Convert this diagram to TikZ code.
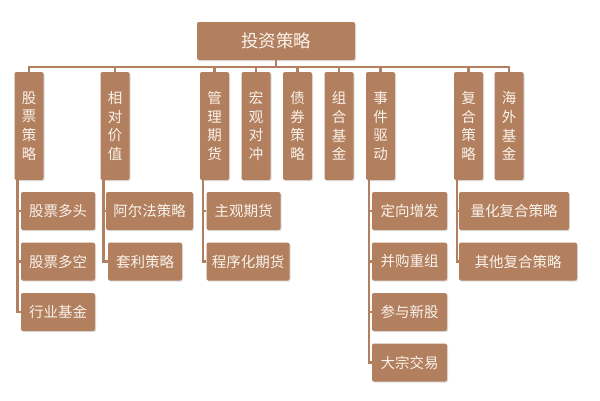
\documentclass[tikz,border=0pt]{standalone}
\usepackage{fontspec}
\newfontfamily\cjk{Noto Sans CJK SC}
\usetikzlibrary{shadows}
\definecolor{boxbrown}{RGB}{178,127,95}
\definecolor{boxtext}{RGB}{250,243,235}
\begin{document}
\begin{tikzpicture}[x=1pt,y=-1pt,
  box/.style={fill=boxbrown,rounded corners=2pt,inner sep=0pt,text=boxtext,
    drop shadow={opacity=0.25,shadow xshift=1pt,shadow yshift=-1.2pt}},
  rootbox/.style={box,minimum width=158pt,minimum height=38pt,font=\cjk\fontsize{17.5}{20}\selectfont},
  vbox/.style={box,minimum width=29pt,minimum height=108pt,align=center,font=\cjk\fontsize{14.5}{18.7}\selectfont},
  cbox/.style={box,minimum height=38pt,font=\cjk\fontsize{14.5}{17}\selectfont},
  link/.style={draw=boxbrown,line width=2.4pt}]
\fill[white] (0,0) rectangle (600,400);
\useasboundingbox (0,0) rectangle (600,400);
% root
\node[rootbox] (root) at (276,41) {投资策略};
% level 1
\node[vbox] (l1) at (29,126) {股\\票\\策\\略};
\node[vbox] (l2) at (115,126) {相\\对\\价\\值};
\node[vbox] (l3) at (214.5,126) {管\\理\\期\\货};
\node[vbox] (l4) at (256,126) {宏\\观\\对\\冲};
\node[vbox] (l5) at (297.5,126) {债\\券\\策\\略};
\node[vbox] (l6) at (339,126) {组\\合\\基\\金};
\node[vbox] (l7) at (380.5,126) {事\\件\\驱\\动};
\node[vbox] (l8) at (468.5,126) {复\\合\\策\\略};
\node[vbox] (l9) at (509,126) {海\\外\\基\\金};
% children
\node[cbox,minimum width=74pt] (c11) at (58,211) {股票多头};
\node[cbox,minimum width=74pt] (c12) at (58,261.5) {股票多空};
\node[cbox,minimum width=74pt] (c13) at (58,312) {行业基金};
\node[cbox,minimum width=87pt] (c21) at (149.5,211) {阿尔法策略};
\node[cbox,minimum width=74pt] (c22) at (145,261.5) {套利策略};
\node[cbox,minimum width=74pt] (c31) at (243.5,211) {主观期货};
\node[cbox,minimum width=83pt] (c32) at (248,261.5) {程序化期货};
\node[cbox,minimum width=75pt] (c71) at (409.5,211) {定向增发};
\node[cbox,minimum width=75pt] (c72) at (409.5,261.5) {并购重组};
\node[cbox,minimum width=75pt] (c73) at (409.5,312) {参与新股};
\node[cbox,minimum width=75pt] (c74) at (409.5,362.5) {大宗交易};
\node[cbox,minimum width=110pt] (c81) at (514,211) {量化复合策略};
\node[cbox,minimum width=118pt] (c82) at (518,261.5) {其他复合策略};
% connectors root -> level 1
\foreach \n in {l1,l2,l3,l4,l5,l6,l7,l8,l9}
  \draw[link] (root.south) -- ++(0,7) -| (\n.north);
% connectors level 1 -> children
\foreach \p/\c in {l1/c11,l1/c12,l1/c13,l2/c21,l2/c22,l3/c31,l3/c32,l7/c71,l7/c72,l7/c73,l7/c74,l8/c81,l8/c82}
  \draw[link] ([xshift=3pt]\p.south west) |- (\c.west);
\end{tikzpicture}
\end{document}
